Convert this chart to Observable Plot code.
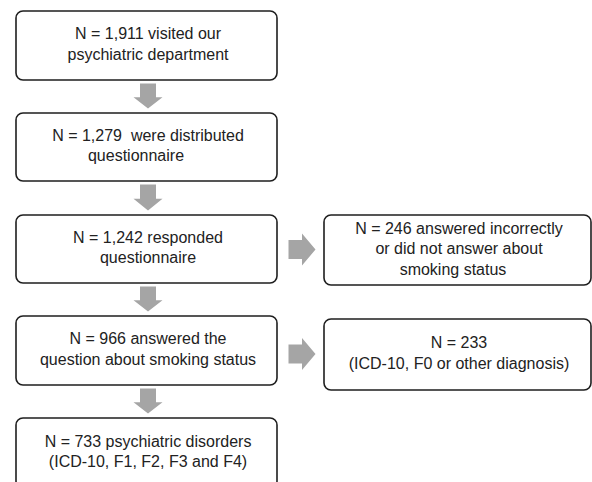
<!DOCTYPE html>
<html>
<head>
<meta charset="utf-8">
<script src="https://cdn.jsdelivr.net/npm/d3@7"></script>
<script src="https://cdn.jsdelivr.net/npm/@observablehq/plot@0.6"></script>
<style>
  html, body { margin: 0; padding: 0; background: #fff; }
  svg { display: block; }
</style>
</head>
<body>
<div id="chart"></div>
<script>
// ---- Data: flow steps (main column) ----
const mainSteps = [
  "N = 1,911 visited our\npsychiatric department",
  "N = 1,279  were distributed\nquestionnaire",
  "N = 1,242 responded\nquestionnaire",
  "N = 966 answered the\nquestion about smoking status",
  "N = 733 psychiatric disorders\n(ICD-10, F1, F2, F3 and F4)"
];
// ---- Data: exclusions (side column), attached to main step index ----
const sideSteps = [
  "N = 246 answered incorrectly\nor did not answer about\nsmoking status",
  "N = 233\n(ICD-10, F0 or other diagnosis)"
];
const sideFrom = [2, 3];

// ---- Layout (kept separate from the data) ----
const W = 592, H = 482;
const mainX1 = 16, mainX2 = 277;
const mainTop = [11, 113, 215, 316, 418];
const mainH = [69, 68, 68, 69, 70];
const sideX1 = 324, sideX2 = 591;
const sideTop = [215, 319];
const sideH = [70, 71];
const font = 16, lineH = 20.5;
// small horizontal nudges of individual lines, as in the original artwork
const lineNudge = {"1-1": -12, "5-2": -6};

const boxes = [];
mainSteps.forEach((t, i) => boxes.push({x1: mainX1, x2: mainX2, y1: mainTop[i], y2: mainTop[i] + mainH[i], text: t}));
sideSteps.forEach((t, i) => boxes.push({x1: sideX1, x2: sideX2, y1: sideTop[i], y2: sideTop[i] + sideH[i], text: t}));

// text lines
const lines = [];
boxes.forEach((b, bi) => {
  const ls = b.text.split("\n");
  const cy = (b.y1 + b.y2) / 2 - 1.5;
  ls.forEach((l, k) => {
    const nudge = lineNudge[bi + "-" + k] || 0;
    lines.push({x: (b.x1 + b.x2) / 2 + 1 + nudge, y: cy + (k - (ls.length - 1) / 2) * lineH, text: l});
  });
});

// arrows (polygons derived from box geometry)
const arrowPts = [];
const cx = (mainX1 + mainX2) / 2 + 1;
for (let i = 0; i < mainSteps.length - 1; i++) {
  const top = mainTop[i] + mainH[i] + 3, tip = mainTop[i + 1] - 5;
  const mid = top + (tip - top) * 0.55;
  const sw = 8, hw = 14.5;
  [[cx - sw, top], [cx + sw, top], [cx + sw, mid], [cx + hw, mid], [cx, tip], [cx - hw, mid], [cx - sw, mid], [cx - sw, top]]
    .forEach(([x, y]) => arrowPts.push({x, y, id: "d" + i}));
}
sideFrom.forEach((m, j) => {
  const cyA = sideTop[j] + sideH[j] / 2 - 1;
  const left = 288, tip = 315, mid = left + (tip - left) * 0.5;
  const sw = 9.5, hw = 16;
  [[left, cyA - sw], [mid, cyA - sw], [mid, cyA - hw], [tip, cyA], [mid, cyA + hw], [mid, cyA + sw], [left, cyA + sw], [left, cyA - sw]]
    .forEach(([x, y]) => arrowPts.push({x, y, id: "s" + j}));
});

const chart = Plot.plot({
  width: W,
  height: H,
  margin: 0,
  x: {domain: [0, W], range: [0, W], axis: null},
  y: {domain: [0, H], range: [0, H], axis: null},
  style: {background: "#fff", fontFamily: "'Liberation Sans', Arial, sans-serif"},
  marks: [
    Plot.line(arrowPts, {x: "x", y: "y", z: "id", fill: "#a5a5a5", stroke: "none", curve: "linear"}),
    Plot.rect(boxes, {x1: "x1", x2: "x2", y1: "y1", y2: "y2", fill: "#fff", stroke: "#1e1e1e", strokeWidth: 1.6, rx: 7}),
    Plot.text(lines, {x: "x", y: "y", text: "text", fontSize: font, fill: "#222", textAnchor: "middle", lineAnchor: "middle"})
  ]
});
document.getElementById("chart").appendChild(chart);
</script>
</body>
</html>
